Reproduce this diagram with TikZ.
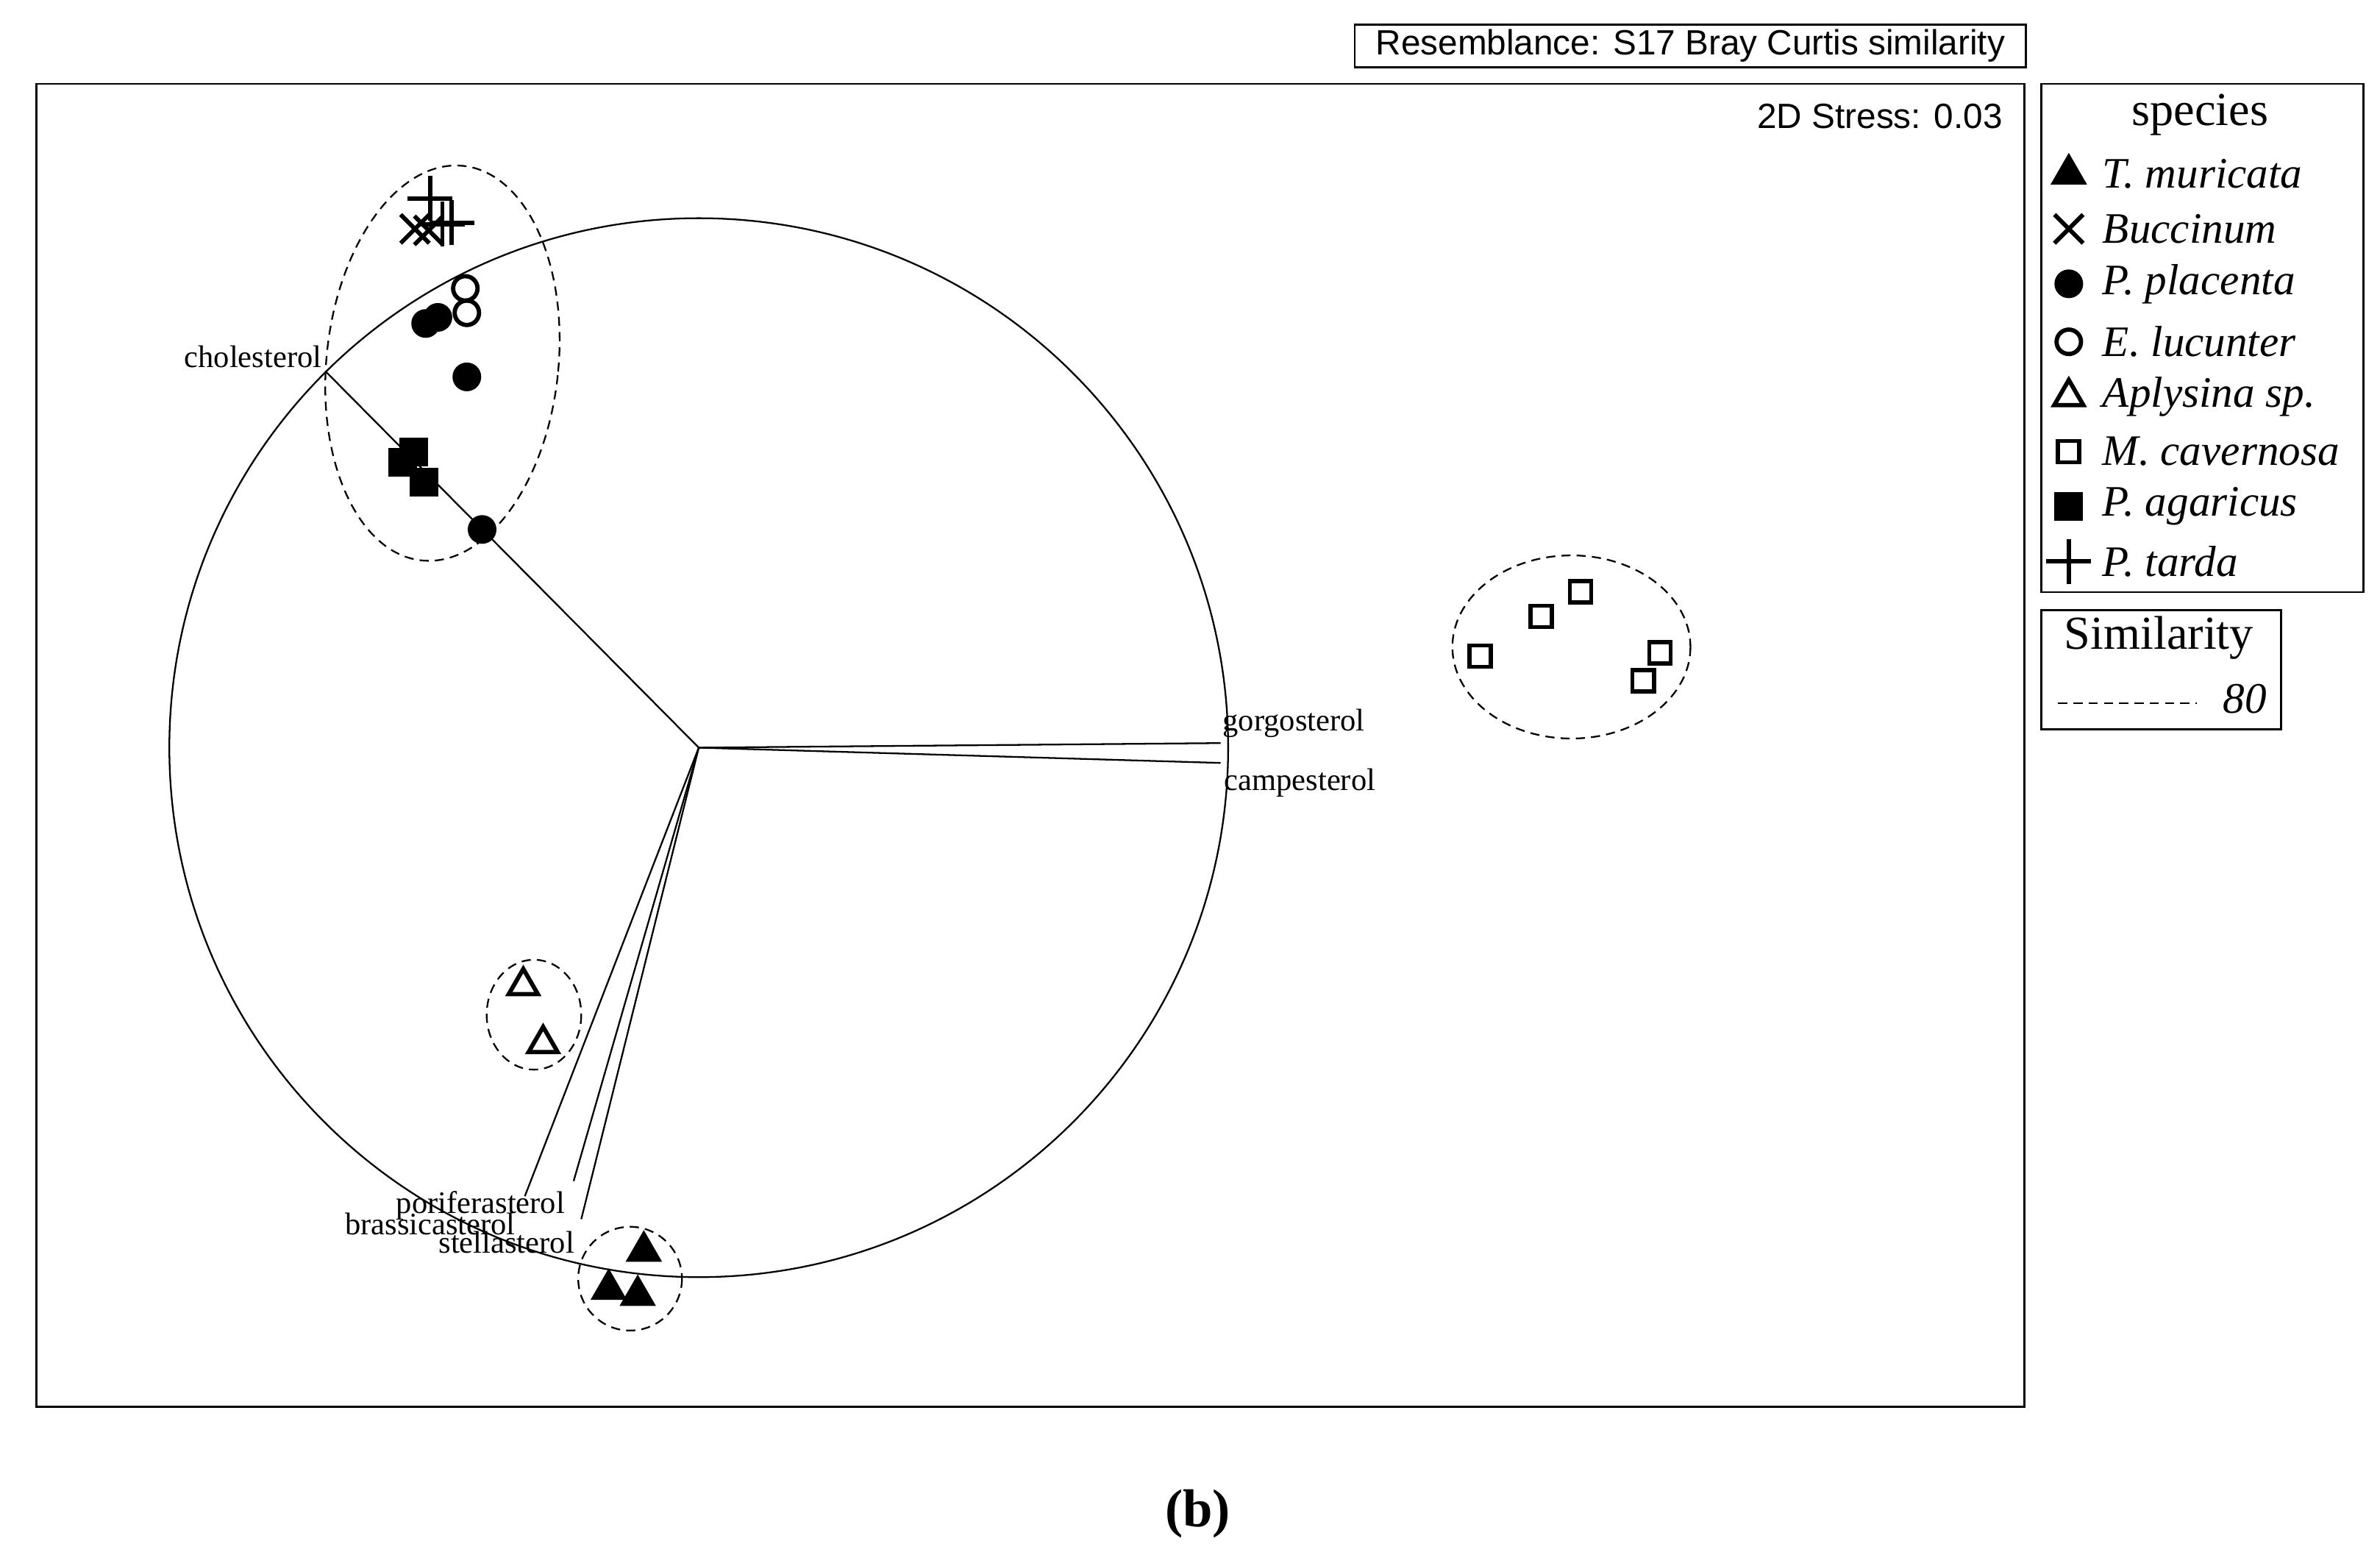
\documentclass[tikz,border=0pt]{standalone}
\usepackage{fontspec}
\setmainfont{Liberation Serif}
\newfontfamily\arialf{Liberation Sans}
\usetikzlibrary{shapes.geometric,shapes.misc}
\tikzset{
  mk/.style={inner sep=0pt,line width=2.8pt,draw},
  ftri/.style={mk,regular polygon,regular polygon sides=3,minimum size=22pt,fill},
  otri/.style={mk,regular polygon,regular polygon sides=3,minimum size=22pt},
  fsq/.style={mk,rectangle,minimum size=16pt,fill},
  osq/.style={mk,rectangle,minimum size=14pt},
  fcirc/.style={mk,circle,minimum size=16pt,fill},
  ocirc/.style={mk,circle,minimum size=16pt},
  xmk/.style={mk,cross out,minimum size=16pt},
  pmk/.style={mk,cross out,minimum size=18pt,rotate=45},
  vec/.style={line width=1.1pt},
  vlab/.style={font=\fontsize{20.5}{20.5}\selectfont,inner sep=0pt},
  simring/.style={line width=1.1pt,dash pattern=on 6pt off 4pt},
  leg/.style={font=\fontsize{28.5}{28.5}\selectfont\itshape,anchor=west,inner sep=0pt}
}
\begin{document}
\begin{tikzpicture}[x=1pt,y=-1pt]
\useasboundingbox (0,0) rectangle (1560,1019);
% frame and headers
\draw[line width=1.3pt] (24,55) rectangle (1327,922);
\node[draw,line width=1.3pt,font=\arialf\fontsize{23}{23}\selectfont,minimum width=440pt,minimum height=28pt,inner sep=0pt] (res) at (1108,30) {Resemblance: S17 Bray Curtis similarity};
\node[font=\arialf\fontsize{23}{23}\selectfont,anchor=east] (stress) at (1316,76) {2D Stress: 0.03};
% correlation circle and vectors
\draw[line width=1.1pt] (458,490) circle (347);
\coordinate (o) at (458,490);
\node[vlab,anchor=east] (chol) at (211,234) {cholesterol};
\node[vlab] (gorg) at (848,474) {gorgosterol};
\node[vlab] (camp) at (852,513) {campesterol};
\node[vlab] (pori) at (315,790) {poriferasterol};
\node[vlab] (bras) at (282,802) {brassicasterol};
\node[vlab] (stel) at (332,814) {stellasterol};
\coordinate (ec) at (214,244);
\coordinate (eg) at (800,487);
\coordinate (ecp) at (800,500);
\coordinate (ep) at (344,784);
\coordinate (eb) at (376,774);
\coordinate (es) at (381,799);
\foreach \e in {ec,eg,ecp,ep,eb,es} \draw[vec] (o) -- (\e);
% similarity rings
\draw[simring,rotate around={-6:(290,238)}] (290,238) ellipse (76 and 130);
\draw[simring] (350,665) ellipse (31 and 36);
\draw[simring] (413,838) ellipse (34 and 34);
\draw[simring] (1030,424) ellipse (78 and 60);
% samples
\node[pmk] (p1) at (282,130) {};
\node[pmk] (p2) at (290,147) {};
\node[pmk] (p3) at (296,146) {};
\node[xmk] (x1) at (272,150) {};
\node[xmk] (x2) at (281,151) {};
\node[ocirc] (e1) at (305,189) {};
\node[ocirc] (e2) at (306,205) {};
\node[fcirc] (c1) at (279,212) {};
\node[fcirc] (c2) at (287,208) {};
\node[fcirc] (c3) at (306,247) {};
\node[fcirc] (c4) at (316,347) {};
\node[fsq] (q1) at (271,296) {};
\node[fsq] (q2) at (264,303) {};
\node[fsq] (q3) at (278,316) {};
\node[otri] (a1) at (343,646) {};
\node[otri] (a2) at (356,684) {};
\node[ftri] (t1) at (422,820) {};
\node[ftri] (t2) at (399,845) {};
\node[ftri] (t3) at (418,849) {};
\node[osq] (m1) at (970,430) {};
\node[osq] (m2) at (1010,404) {};
\node[osq] (m3) at (1036,388) {};
\node[osq] (m4) at (1088,428) {};
\node[osq] (m5) at (1077,446) {};
% legend
\draw[line width=1.3pt] (1338,55) rectangle (1549,388);
\node[font=\fontsize{31}{31}\selectfont] (spec) at (1442,75) {species};
\foreach \s/\t/\y in {ftri/T. muricata/114,xmk/Buccinum/150,fcirc/P. placenta/186,ocirc/E. lucunter/224,otri/Aplysina sp./260,osq/M. cavernosa/296,fsq/P. agaricus/332,pmk/P. tarda/368}{
  \node[\s] (l\y) at (1356,\y) {};
  \node[leg] (n\y) at (1378,\y) {\t};
}
\draw[line width=1.3pt] (1338,400) rectangle (1495,478);
\node[font=\fontsize{31}{31}\selectfont] (sim) at (1415,418) {Similarity};
\coordinate (d1) at (1349,461);
\coordinate (d2) at (1440,461);
\draw[simring] (d1) -- (d2);
\node[leg] (n80) at (1457,458) {80};
\node[font=\fontsize{35}{35}\selectfont\bfseries] (b) at (785,992) {(b)};
\end{tikzpicture}
\end{document}
